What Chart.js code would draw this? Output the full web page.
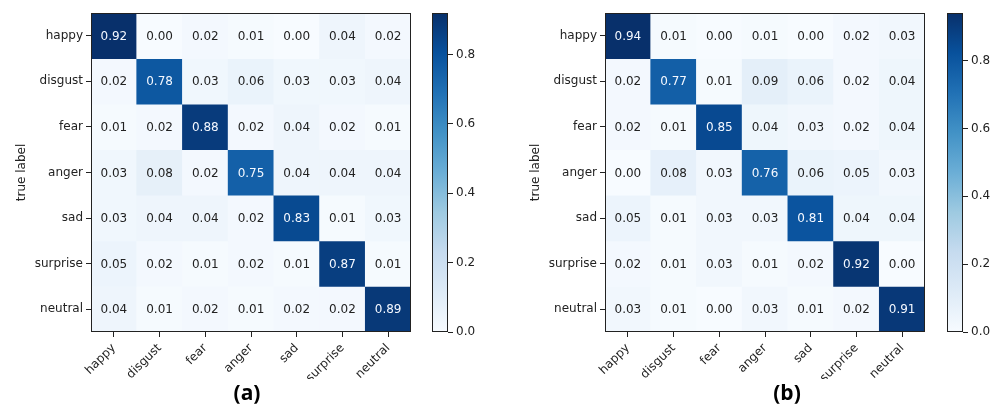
<!DOCTYPE html>
<html>
<head>
<meta charset="utf-8">
<script src="https://cdn.jsdelivr.net/npm/chart.js@4.4.1/dist/chart.umd.min.js"></script>
<style>
  body { margin: 0; background: #fff; width: 998px; height: 409px; position: relative; overflow: hidden; }
  canvas { position: absolute; top: 0; }
  .band { position: absolute; left: 0; top: 379px; width: 998px; height: 30px; background: #fff; }
  .cap { position: absolute; top: -1px; width: 100px; text-align: center; font: bold 21px 'Open Sans', 'Liberation Sans', sans-serif; line-height: 28px; color: #000; }
</style>
</head>
<body>
<canvas id="matA" width="420" height="380" style="left:0px"></canvas>
<canvas id="barA" width="80" height="380" style="left:420px"></canvas>
<canvas id="matB" width="420" height="380" style="left:514px"></canvas>
<canvas id="barB" width="80" height="380" style="left:935px"></canvas>
<div class="band">
  <div class="cap" style="left:197px">(a)</div>
  <div class="cap" style="left:737px">(b)</div>
</div>
<script>
// Confusion matrices
const labels = ['happy', 'disgust', 'fear', 'anger', 'sad', 'surprise', 'neutral'];

const valuesA = [
    [0.92, 0.00, 0.02, 0.01, 0.00, 0.04, 0.02],
    [0.02, 0.78, 0.03, 0.06, 0.03, 0.03, 0.04],
    [0.01, 0.02, 0.88, 0.02, 0.04, 0.02, 0.01],
    [0.03, 0.08, 0.02, 0.75, 0.04, 0.04, 0.04],
    [0.03, 0.04, 0.04, 0.02, 0.83, 0.01, 0.03],
    [0.05, 0.02, 0.01, 0.02, 0.01, 0.87, 0.01],
    [0.04, 0.01, 0.02, 0.01, 0.02, 0.02, 0.89]
];

const valuesB = [
    [0.94, 0.01, 0.00, 0.01, 0.00, 0.02, 0.03],
    [0.02, 0.77, 0.01, 0.09, 0.06, 0.02, 0.04],
    [0.02, 0.01, 0.85, 0.04, 0.03, 0.02, 0.04],
    [0.00, 0.08, 0.03, 0.76, 0.06, 0.05, 0.03],
    [0.05, 0.01, 0.03, 0.03, 0.81, 0.04, 0.04],
    [0.02, 0.01, 0.03, 0.01, 0.02, 0.92, 0.00],
    [0.03, 0.01, 0.00, 0.03, 0.01, 0.02, 0.91]
];

const colorbarTicks = [0, 0.2, 0.4, 0.6, 0.8];

// matplotlib "Blues" stops
const BLUES = ['#f7fbff', '#deebf7', '#c6dbef', '#9ecae1', '#6baed6', '#4292c6', '#2171b5', '#08519c', '#08306b'];
const FONT = "'DejaVu Sans', sans-serif";

Chart.defaults.font.family = FONT;
Chart.defaults.font.size = 12;
Chart.defaults.color = '#222';
Chart.defaults.animation = false;

function hexToRgb(h) {
    return [1, 3, 5].map(i => parseInt(h.substr(i, 2), 16));
}

function blues(t) {
    t = Math.max(0, Math.min(1, t));
    const pos = t * (BLUES.length - 1);
    const i = Math.min(Math.floor(pos), BLUES.length - 2);
    const f = pos - i;
    const a = hexToRgb(BLUES[i]), b = hexToRgb(BLUES[i + 1]);
    const c = a.map((v, k) => Math.round(v + (b[k] - v) * f));
    return `rgb(${c[0]}, ${c[1]}, ${c[2]})`;
}

// matplotlib centres the rotated label box on the tick, Chart.js right-aligns it
const measureCtx = document.createElement('canvas').getContext('2d');
measureCtx.font = '12px ' + FONT;
const labelShift = labels.map(l => Math.round(measureCtx.measureText(l).width * Math.SQRT1_2 / 2 + 2));

const frameBorder = {
    id: 'frameBorder',
    afterDraw(chart) {
        const a = chart.chartArea;
        const ctx = chart.ctx;
        ctx.save();
        ctx.strokeStyle = '#222';
        ctx.lineWidth = 1;
        ctx.strokeRect(Math.round(a.left) + 0.5, Math.round(a.top) + 0.5,
            Math.round(a.right - a.left) - 1, Math.round(a.bottom - a.top) - 1);
        ctx.restore();
    }
};

function cellText(values, vmax) {
    return {
        id: 'cellText',
        afterDatasetsDraw(chart) {
            const ctx = chart.ctx;
            const xs = chart.scales.x, ys = chart.scales.y;
            ctx.save();
            ctx.font = '12px ' + FONT;
            ctx.textAlign = 'center';
            ctx.textBaseline = 'middle';
            values.forEach((row, r) => {
                row.forEach((v, c) => {
                    ctx.fillStyle = v > vmax / 2 ? '#f4f8ff' : '#222';
                    ctx.fillText(v.toFixed(2), xs.getPixelForValue(c), ys.getPixelForValue(r) + 1);
                });
            });
            ctx.restore();
        }
    };
}

function initMatrix(id, values) {
    const vmax = Math.max(...values.flat());
    const datasets = values.map((row, r) => ({
        data: row.map(() => [r - 0.5, r + 0.5]),
        backgroundColor: row.map(v => blues(v / vmax)),
        borderWidth: 0,
        barPercentage: 1,
        categoryPercentage: 1
    }));

    return new Chart(document.getElementById(id), {
        type: 'bar',
        data: { labels: labels, datasets: datasets },
        options: {
            responsive: false,
            devicePixelRatio: 1,
            layout: { padding: { left: 11, top: 13, right: 9, bottom: 0 } },
            plugins: { legend: { display: false }, tooltip: { enabled: false } },
            datasets: { bar: { grouped: false } },
            scales: {
                x: {
                    grid: { offset: false, drawOnChartArea: false, tickLength: 5, color: '#222' },
                    border: { display: false },
                    ticks: {
                        minRotation: 45,
                        maxRotation: 45,
                        padding: 4,
                        autoSkip: false,
                        labelOffset: ctx => labelShift[ctx.index] || 0
                    },
                    afterFit(scale) { scale.height = 48; }
                },
                y: {
                    type: 'linear',
                    min: -0.5,
                    max: 6.5,
                    reverse: true,
                    grid: { drawOnChartArea: false, tickLength: 5, color: '#222' },
                    border: { display: false },
                    title: { display: true, text: 'true label', padding: { top: 4, bottom: 4 } },
                    ticks: {
                        padding: 3,
                        callback: value => labels[value]
                    },
                    afterBuildTicks(scale) {
                        scale.ticks = labels.map((_, i) => ({ value: i }));
                    },
                    afterFit(scale) { scale.width = 80; }
                }
            }
        },
        plugins: [cellText(values, vmax), frameBorder]
    });
}

function initColorbar(id, values) {
    const vmax = Math.max(...values.flat());
    return new Chart(document.getElementById(id), {
        type: 'bar',
        data: {
            labels: [''],
            datasets: [{
                data: [[0, vmax]],
                borderWidth: 0,
                barPercentage: 1,
                categoryPercentage: 1,
                backgroundColor: function(context) {
                    const area = context.chart.chartArea;
                    if (!area) return BLUES[0];
                    const g = context.chart.ctx.createLinearGradient(0, area.bottom, 0, area.top);
                    BLUES.forEach((c, i) => g.addColorStop(i / (BLUES.length - 1), c));
                    return g;
                }
            }]
        },
        options: {
            responsive: false,
            devicePixelRatio: 1,
            layout: { padding: { left: 12, top: 13, right: 2, bottom: 48 } },
            plugins: { legend: { display: false }, tooltip: { enabled: false } },
            scales: {
                x: { display: false },
                y: {
                    position: 'right',
                    min: 0,
                    max: vmax,
                    grid: { drawOnChartArea: false, tickLength: 5, color: '#222' },
                    border: { display: false },
                    ticks: {
                        padding: 3,
                        includeBounds: false,
                        callback: value => value.toFixed(1)
                    },
                    afterBuildTicks(scale) {
                        scale.ticks = colorbarTicks.map(v => ({ value: v }));
                    },
                    afterFit(scale) { scale.width = 50; }
                }
            }
        },
        plugins: [frameBorder]
    });
}

initMatrix('matA', valuesA);
initColorbar('barA', valuesA);
initMatrix('matB', valuesB);
initColorbar('barB', valuesB);
</script>
</body>
</html>
